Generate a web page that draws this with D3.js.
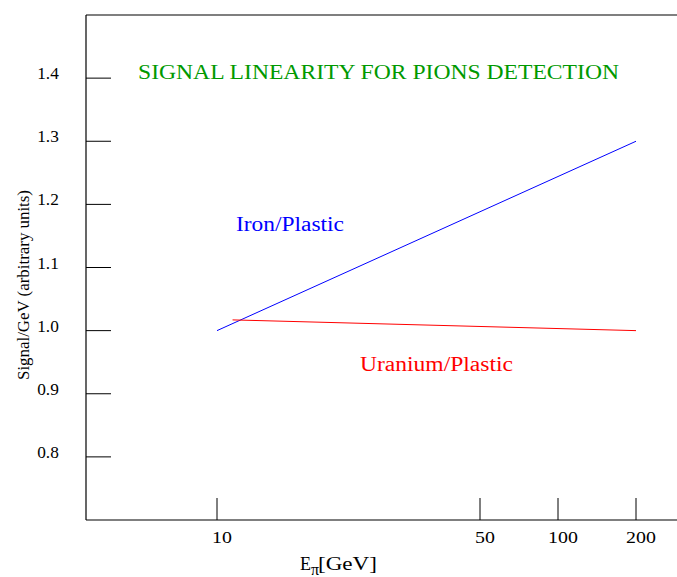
<!DOCTYPE html>
<html><head><meta charset="utf-8">
<script src="https://cdn.jsdelivr.net/npm/d3@7"></script>
<style>body{margin:0;background:#fff}svg{display:block}</style>
</head><body>
<script>
const xTicks = [10, 50, 100, 200];
const yTicks = [0.8, 0.9, 1.0, 1.1, 1.2, 1.3, 1.4];
const ironE = [10, 200];
const ironSignal = [1.0, 1.3];
const uraniumE = [11, 200];
const uraniumSignal = [1.017, 1.0];
const title = "SIGNAL LINEARITY FOR PIONS DETECTION";

(function () {
const W = 677, H = 577;
const FONT = '"Liberation Serif", "Times New Roman", serif';
const svg = d3.select("body").append("svg").attr("width", W).attr("height", H);
const pl = 86, pt = 15, pb = 520, pr = 677;

const x = d3.scaleLog().domain(xTicks).range([217, 480, 558, 636]);
const y = d3.scaleLinear().domain([0.7, 1.5]).range([pb, pt]);

const g = svg.append("g");
function txt(xx, yy, size, s) {
  return g.append("text").attr("x", xx).attr("y", yy).attr("font-size", size)
    .style("font-family", FONT).text(s);
}
function fit(sel, len) {
  sel.attr("textLength", len).attr("lengthAdjust", "spacingAndGlyphs");
  return sel;
}
function stretch(sel, f) {
  return fit(sel, sel.node().getComputedTextLength() * f);
}

g.append("line").attr("x1", pl).attr("x2", pr).attr("y1", pt).attr("y2", pt).attr("stroke", "#000").attr("stroke-width", 1.2);
g.append("line").attr("x1", pl).attr("x2", pr).attr("y1", pb).attr("y2", pb).attr("stroke", "#000").attr("stroke-width", 1.2);
g.append("line").attr("x1", pl).attr("x2", pl).attr("y1", pt).attr("y2", pb).attr("stroke", "#000").attr("stroke-width", 1.2);

yTicks.forEach(v => {
  g.append("line").attr("x1", pl).attr("x2", pl + 25).attr("y1", y(v)).attr("y2", y(v)).attr("stroke", "#000").attr("stroke-width", 1);
  stretch(txt(48, y(v) + 1, 16, d3.format(".1f")(v)).attr("text-anchor", "middle"), 1.08);
});
xTicks.forEach(v => {
  g.append("line").attr("x1", x(v)).attr("x2", x(v)).attr("y1", pb).attr("y2", pb - 22).attr("stroke", "#000").attr("stroke-width", 1);
  stretch(txt(x(v) + 5, 543, 17, String(v)).attr("text-anchor", "middle"), 1.17);
});

const line = d3.line().x(d => x(d[0])).y(d => y(d[1]));
g.append("path").attr("d", line(d3.zip(ironE, ironSignal))).attr("stroke", "#0000ff").attr("fill", "none").attr("stroke-width", 1);
g.append("path").attr("d", line(d3.zip(uraniumE, uraniumSignal))).attr("stroke", "#ff0000").attr("fill", "none").attr("stroke-width", 1);

fit(txt(138, 79, 20, title).attr("fill", "#009900"), 481);
fit(txt(236, 231, 20, "Iron/Plastic").attr("fill", "#0000ff"), 108);
fit(txt(360, 371, 20, "Uranium/Plastic").attr("fill", "#ff0000"), 153);

fit(txt(0, 0, 17, "Signal/GeV (arbitrary units)").attr("transform", "translate(29,285) rotate(-90)").attr("text-anchor", "middle"), 190);

txt(300, 570, 18, "E");
txt(311, 575, 16, "π");
fit(txt(318, 570, 18, "[GeV]"), 59);
})();
</script>
</body></html>
